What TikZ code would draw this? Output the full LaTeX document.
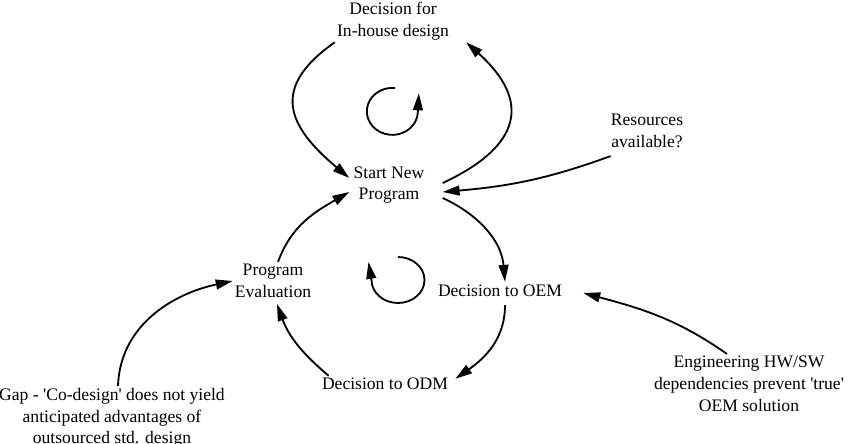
\documentclass[tikz,border=0pt]{standalone}
\usepackage{fontspec}
\setmainfont{Liberation Serif}
\usetikzlibrary{arrows.meta,calc}
\begin{document}
\begin{tikzpicture}[x=0.025cm, y=0.025cm, line width=1.3pt,
  lbl/.style={align=center, inner sep=1pt, font=\fontsize{12.5}{15.5}\selectfont},
  flow/.style={-{Triangle[length=12pt,width=7pt]}}]
  \useasboundingbox (0,0) rectangle (849,-444);
  % labels
  \node[lbl] (inhouse) at (393,-21) {Decision for\\In-house design};
  \node[lbl] (start) at (389,-185) {Start New\\Program};
  \node[lbl] (resources) at (647,-131) {Resources\\available?};
  \node[lbl] (eval) at (273,-281) {Program\\Evaluation};
  \node[lbl] (oem) at (500,-291) {Decision to OEM};
  \node[lbl] (odm) at (385,-384) {Decision to ODM};
  \node[lbl] (gap) at (112,-418) {Gap - \textquotesingle Co-design\textquotesingle{} does not yield\\anticipated advantages of\\outsourced std. design};
  \node[lbl] (eng) at (749,-384) {Engineering HW/SW\\dependencies prevent \textquotesingle true\textquotesingle\\OEM solution};
  % upper loop
  \draw[flow] (inhouse.south west) to[out=215, in=140, looseness=1.5] ($(start.west)+(-2,7)$);
  \draw[flow] ($(start.east)+(16,2)$) to[out=25, in=-42, looseness=1.57] ($(inhouse.south east)+(15,0)$);
  \draw[flow] (395,-88) arc[start angle=84, end angle=360, x radius=25.5, y radius=23.5] -- ++(1,18);
  % lower loop
  \draw[flow] ($(start.east)+(16,-13)$) to[out=-25, in=95] ($(oem.north)+(5,1)$);
  \draw[flow] ($(oem.south)+(5,-6)$) to[out=-90, in=35] ($(odm.north east)+(5,-3)$);
  \draw[flow] ($(odm.north west)+(9,0)$) to[out=140, in=-70] ($(eval.south)+(4,-4)$);
  \draw[flow] ($(eval.north)+(5,0)$) to[out=70, in=210] ($(start.west)+(-2,-7)$);
  \draw[flow] (398,-257) arc[start angle=90, end angle=-180, x radius=26.5, y radius=23] -- ++(-3,18);
  % outside influences
  \draw[flow] ($(resources.south west)+(2,-6)$) to[out=200, in=5] ($(start.east)+(16,-7)$);
  \draw[flow] ($(gap.north)+(6,0)$) to[out=88, in=192] (eval.west);
  \draw[flow] ($(eng.north)+(-22,0)$) to[out=145, in=-15] ($(oem.east)+(19,-2)$);
\end{tikzpicture}
\end{document}
